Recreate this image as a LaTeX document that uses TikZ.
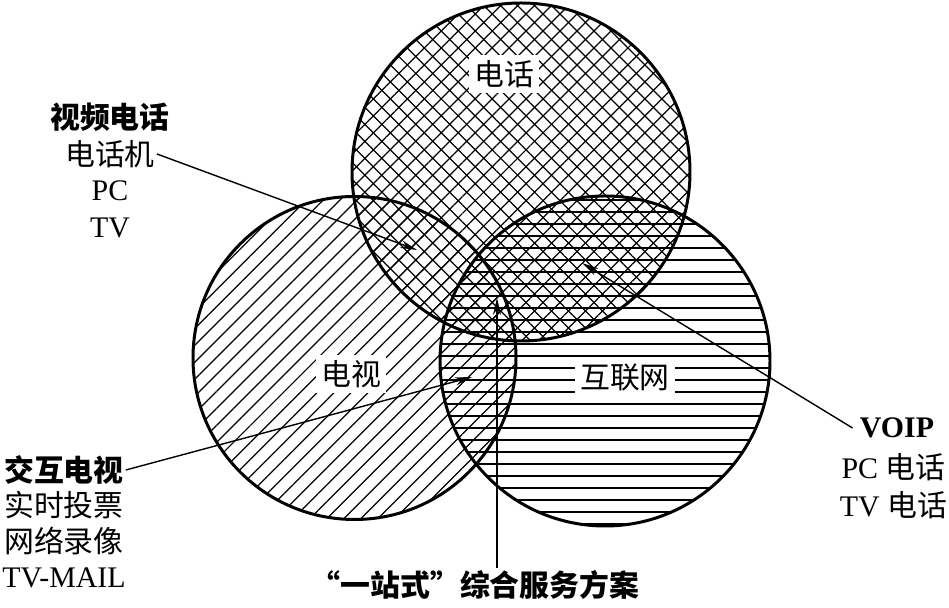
\documentclass[tikz,border=0pt]{standalone}
\usepackage{fontspec}
\setmainfont{Liberation Serif}
\newfontfamily\cjk{Noto Sans CJK SC}
\usetikzlibrary{patterns.meta,arrows.meta}
\tikzset{
  ring/.style={line width=1.7pt, draw=black},
  crosshatch/.style={pattern={Lines[angle=45,distance=0.24cm,line width=0.7pt]},
    postaction={pattern={Lines[angle=-45,distance=0.24cm,line width=0.7pt]}}},
  diaghatch/.style={pattern={Lines[angle=45,distance=0.24cm,line width=0.7pt]}},
  flathatch/.style={pattern={Lines[angle=0,distance=0.24cm,line width=0.7pt]}},
  setlabel/.style={fill=white, inner sep=3pt, font=\fontsize{17}{20}\selectfont\cjk},
  itemlabel/.style={inner sep=1pt, font=\fontsize{17}{20}\selectfont},
  headlabel/.style={inner sep=1pt, font=\fontsize{17}{20}\selectfont\bfseries},
  pointer/.style={line width=0.8pt, draw=black, -{Stealth[length=3.4mm,width=1.6mm]}},
}

\begin{document}
\begin{tikzpicture}
\useasboundingbox (0,0) rectangle (18.980,12.160);
% hatched discs
\fill[crosshatch] (10.420,8.720) circle (3.380);
\fill[diaghatch] (7.090,5.000) circle (3.230);
\fill[flathatch] (12.100,4.940) circle (3.300);
% set names
\node[setlabel] (phone) at (10.080,10.680) {电话};
\node[setlabel] (tv) at (7.020,4.680) {电视};
\node[setlabel] (net) at (12.500,4.600) {互联网};
% outlines
\draw[ring] (10.420,8.720) circle (3.380);
\draw[ring] (7.090,5.000) circle (3.230);
\draw[ring] (12.100,4.940) circle (3.300);
% video phone
\node[headlabel] (vp) at (2.200,9.820) {\cjk 视频电话};
\node[itemlabel] (vp1) at (2.200,9.080) {\cjk 电话机};
\node[itemlabel] (vp2) at (2.200,8.340) {PC};
\node[itemlabel] (vp3) at (2.200,7.600) {TV};
% interactive tv
\node[headlabel] (itv) at (1.280,2.760) {\cjk 交互电视};
\node[itemlabel] (itv1) at (1.280,2.060) {\cjk 实时投票};
\node[itemlabel] (itv2) at (1.280,1.340) {\cjk 网络录像};
\node[itemlabel] (itv3) at (1.280,0.600) {TV-MAIL};
% voip
\node[headlabel] (voip) at (17.940,3.600) {VOIP};
\node[itemlabel] (voip1) at (17.870,2.820) {PC {\cjk 电话}};
\node[itemlabel] (voip2) at (17.870,2.060) {TV {\cjk 电话}};
% one stop
\node[headlabel] (onestop) at (9.500,0.460) {\cjk “一站式”综合服务方案};
% pointers
\coordinate (vptip) at (8.340,7.160);
\coordinate (voiptip) at (11.640,6.900);
\coordinate (itvtip) at (9.440,4.620);
\coordinate (alltip) at (9.940,6.200);
\draw[pointer] (vp1.east) -- (vptip);
\draw[pointer] ([xshift=-3pt]voip.west) -- (voiptip);
\draw[pointer] (itv.east) -- (itvtip);
\draw[pointer] (onestop.north -| alltip) -- (alltip);
\end{tikzpicture}
\end{document}
